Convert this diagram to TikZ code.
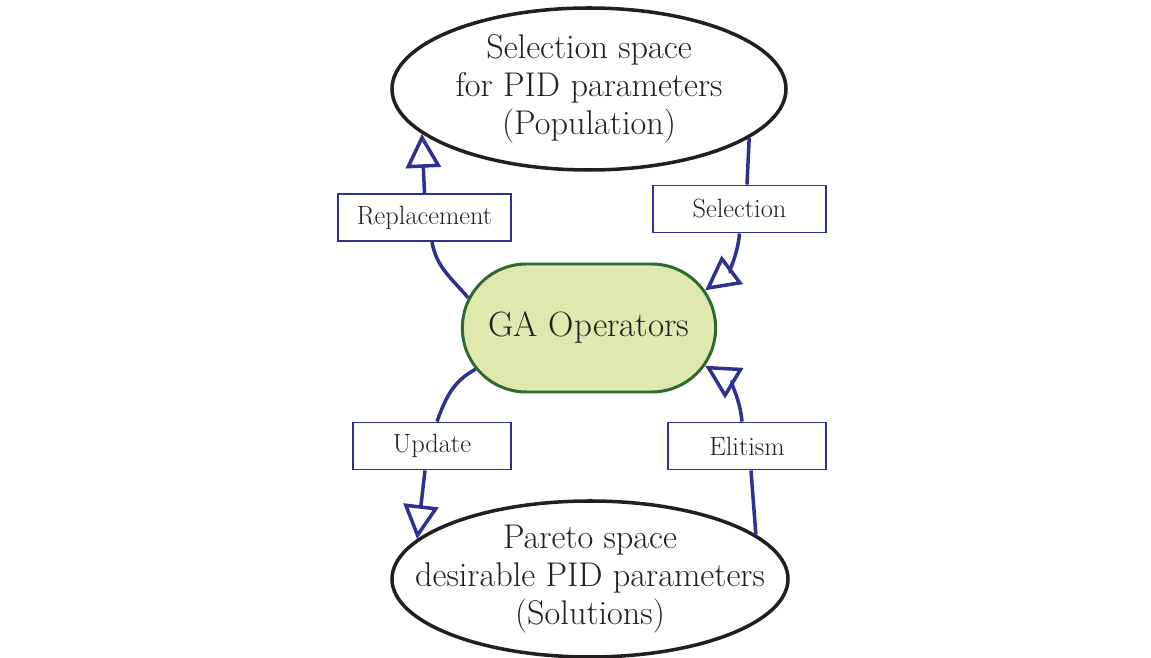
\documentclass[tikz,border=0pt]{standalone}
\usetikzlibrary{arrows.meta,shapes.geometric,shapes.misc}
\definecolor{blu}{HTML}{2E3192}
\definecolor{verde}{HTML}{2D6A2E}
\definecolor{verdino}{HTML}{DFE8AE}
\definecolor{testo}{HTML}{231F20}
\tikzset{
  spazio/.style={draw=testo, line width=2pt, ellipse, inner sep=0pt},
  etichetta/.style={align=center, text=testo, font=\fontsize{19.5}{21.6}\selectfont},
  operatore/.style={draw=verde, fill=verdino, line width=1.7pt, rounded rectangle,
    minimum width=5.3cm, minimum height=2.56cm, text=testo, font=\fontsize{20}{24}\selectfont},
  scatola/.style={draw=blu, line width=1.1pt, fill=white, inner sep=0pt,
    minimum height=0.94cm, text=testo, font=\fontsize{15}{17}\selectfont},
  linea/.style={draw=blu, line width=2pt},
  freccia/.style={linea, -{Triangle[open,length=0.68cm,width=0.7cm]}}
}
\begin{document}
\begin{tikzpicture}
   \useasboundingbox (0,0) rectangle (23.02,13.16);
   %spazi
   \node[spazio, minimum width=7.88cm, minimum height=3.24cm] (top) at (11.78,11.38) {};
   \node[etichetta] (toptxt) at (top) {Selection space\\for PID parameters\\(Population)};
   \node[spazio, minimum width=7.92cm, minimum height=3.12cm] (bot) at (11.8,1.58) {};
   \node[etichetta] (bottxt) at (bot) {Pareto space\\desirable PID parameters\\(Solutions)};
   %operatori
   \node[operatore] (ga) at (11.78,6.6) {GA Operators};
   %scatole
   \node[scatola, minimum width=3.46cm] (repl) at (8.49,8.81) {Replacement};
   \node[scatola, minimum width=3.46cm] (sel) at (14.79,8.98) {Selection};
   \node[scatola, minimum width=3.16cm] (upd) at (8.64,4.24) {Update};
   \node[scatola, minimum width=3.16cm] (eli) at (14.94,4.24) {Elitism};
   %frecce
   \draw[linea] (ga.166) to[out=130,in=-80] ([xshift=0.15cm]repl.south);
   \draw[freccia] (repl.north) -- (top.195);
   \draw[linea] (top.-17) -- ([xshift=0.15cm]sel.north);
   \draw[freccia] (sel.south) to[out=-95,in=37] (ga.18);
   \draw[linea] (ga.200) to[out=208,in=70] ([xshift=0.1cm]upd.north);
   \draw[freccia] ([xshift=-0.14cm]upd.south) -- (bot.167);
   \draw[linea] (bot.15) -- ([xshift=0.08cm]eli.south);
   \draw[freccia] ([xshift=-0.1cm]eli.north) to[out=95,in=-31] (ga.-18);
\end{tikzpicture}
\end{document}
